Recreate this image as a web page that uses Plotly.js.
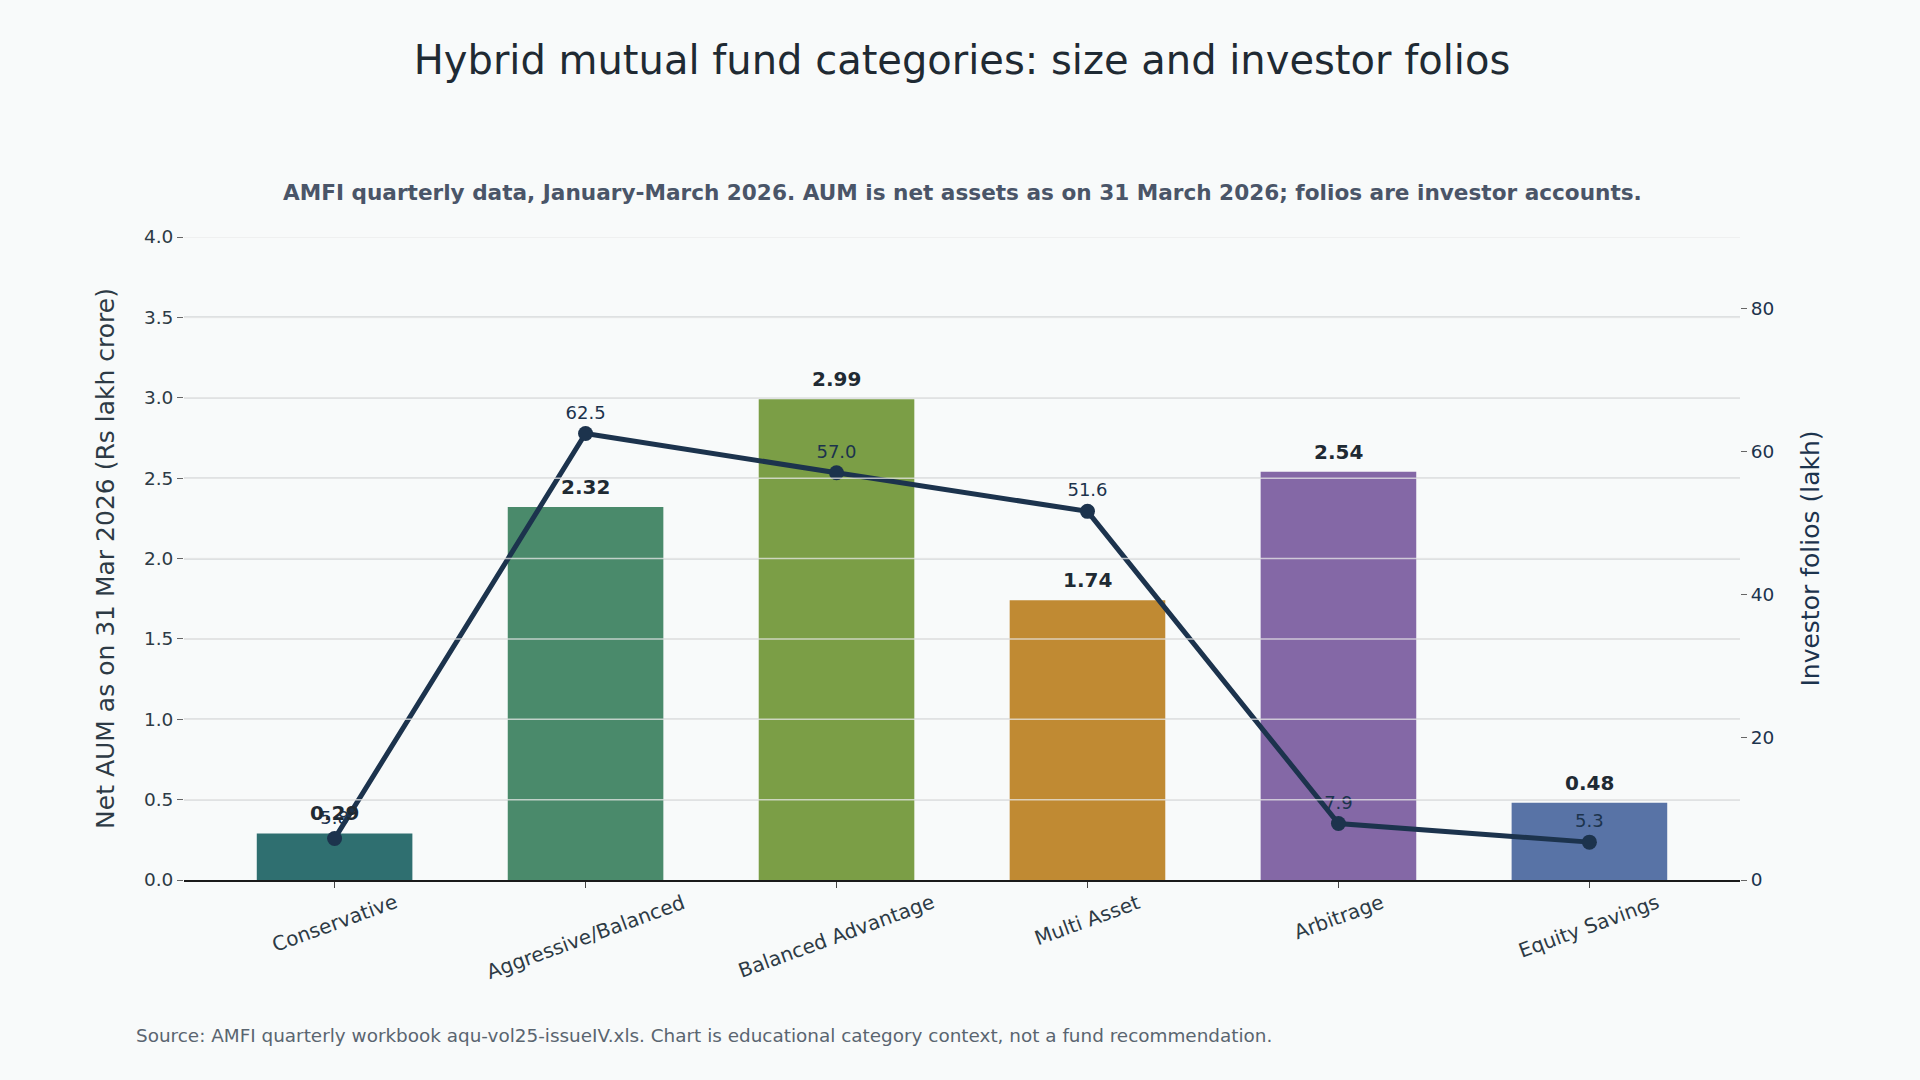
<!DOCTYPE html>
<html>
<head>
<meta charset="utf-8">
<script src="https://cdn.plot.ly/plotly-3.0.1.min.js"></script>
<style>
  html, body { margin: 0; padding: 0; background: #f8fafa; }
  #chart { width: 1920px; height: 1080px; }
</style>
</head>
<body>
<div id="chart"></div>
<script>
// Hybrid fund categories, AMFI Jan-Mar 2026
const categories = ["Conservative", "Aggressive/Balanced", "Balanced Advantage", "Multi Asset", "Arbitrage", "Equity Savings"];
const aumLakhCrore = [0.29, 2.32, 2.99, 1.74, 2.54, 0.48];
const foliosLakh = [5.8, 62.5, 57.0, 51.6, 7.9, 5.3];
const barColors = ["#2f6f70", "#4a8a6b", "#7b9e46", "#c08a33", "#8468a6", "#5873a6"];
const leftTicks = [0, 0.5, 1.0, 1.5, 2.0, 2.5, 3.0, 3.5, 4.0];
const rightTicks = [0, 20, 40, 60, 80];

const navy = "#1c334d";
const font = "DejaVu Sans, Verdana, sans-serif";

const bars = {
  type: "bar",
  x: categories,
  y: aumLakhCrore,
  marker: { color: barColors },
  width: 0.62,
  hoverinfo: "x+y",
  showlegend: false
};

const folios = {
  type: "scatter",
  mode: "lines+markers+text",
  x: categories,
  y: foliosLakh,
  yaxis: "y2",
  line: { color: navy, width: 5 },
  marker: { color: navy, size: 15 },
  text: foliosLakh.map(v => v.toFixed(1)),
  textposition: "top center",
  textfont: { family: font, size: 18, color: navy },
  cliponaxis: false,
  showlegend: false
};

// light grid strokes that sit over the bars
const gridOverlay = leftTicks.slice(1).map(v => ({
  type: "line", xref: "paper", yref: "y", x0: 0, x1: 1, y0: v, y1: v,
  line: { color: "rgba(232,232,232,0.75)", width: 1.5 }, layer: "above"
}));

// bold value labels above each bar
const barLabels = categories.map((c, i) => ({
  text: "<b>" + aumLakhCrore[i].toFixed(2) + "</b>",
  xref: "x", yref: "y", x: c, y: aumLakhCrore[i],
  xanchor: "center", yanchor: "middle", yshift: 20,
  showarrow: false, font: { family: font, size: 20, color: "#1f2a33" }
}));

// rotated category labels, centred under each tick
const catLabels = categories.map(c => ({
  text: c,
  xref: "x", yref: "paper", x: c, y: 0,
  xanchor: "center", yanchor: "top", yshift: -7, textangle: -20,
  showarrow: false, font: { family: font, size: 20, color: "#2d3a45" }
}));

const layout = {
  width: 1920,
  height: 1080,
  paper_bgcolor: "#f8fafa",
  plot_bgcolor: "#f8fafa",
  font: { family: font, color: "#2d3a45" },
  margin: { l: 184, r: 180, t: 237, b: 200 },
  title: {
    text: "Hybrid mutual fund categories: size and investor folios",
    font: { family: font, size: 40, color: "#1f2a33" },
    x: 0.5, xanchor: "center", y: 0.944, yanchor: "middle", xref: "paper"
  },
  xaxis: {
    type: "category",
    range: [-0.6, 5.6],
    showticklabels: false,
    showline: true, linecolor: "#1a1a1a", linewidth: 1.5,
    ticks: "outside", ticklen: 6, tickcolor: "#444",
    showgrid: false, zeroline: false
  },
  yaxis: {
    range: [0, 4.0],
    tickvals: leftTicks,
    ticktext: leftTicks.map(v => v.toFixed(1)),
    tickfont: { family: font, size: 18.5, color: "#2d3a45" },
    ticks: "outside", ticklen: 6, tickcolor: "#666",
    showgrid: true, gridcolor: "#dcdfe0", gridwidth: 1.5,
    zeroline: false, showline: false,
    title: { text: "Net AUM as on 31 Mar 2026 (Rs lakh crore)", font: { family: font, size: 25, color: "#2d3a45" }, standoff: 22 }
  },
  yaxis2: {
    overlaying: "y",
    side: "right",
    range: [0, 90],
    tickvals: rightTicks,
    tickfont: { family: font, size: 18.5, color: navy },
    ticks: "outside", ticklen: 6, tickcolor: "#666",
    showgrid: false, zeroline: false, showline: false,
    title: { text: "Investor folios (lakh)", font: { family: font, size: 25, color: navy }, standoff: 28 }
  },
  shapes: gridOverlay,
  annotations: [
    {
      text: "<b>AMFI quarterly data, January-March 2026. AUM is net assets as on 31 March 2026; folios are investor accounts.</b>",
      xref: "paper", yref: "paper", x: 0.5, y: 1, yshift: 45, xanchor: "center", yanchor: "middle",
      showarrow: false, font: { family: font, size: 21.6, color: "#4a5568" }
    },
    {
      text: "Source: AMFI quarterly workbook aqu-vol25-issueIV.xls. Chart is educational category context, not a fund recommendation.",
      xref: "paper", yref: "paper", x: 0, xshift: -50, y: 0, yshift: -155, xanchor: "left", yanchor: "middle",
      showarrow: false, font: { family: font, size: 18.4, color: "#5a6570" }
    }
  ].concat(barLabels, catLabels)
};

Plotly.newPlot("chart", [bars, folios], layout, { displayModeBar: false, responsive: false });
</script>
</body>
</html>
